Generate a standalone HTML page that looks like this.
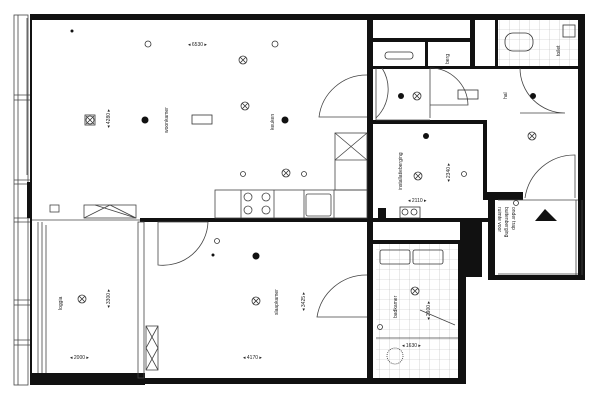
<!DOCTYPE html>
<html><head><meta charset="utf-8"><style>
html,body{margin:0;padding:0;background:#fff;width:600px;height:400px;overflow:hidden}
svg{display:block}
text{font-family:"Liberation Sans",sans-serif;font-size:5px;fill:#222}
</style></head><body>
<svg width="600" height="400" viewBox="0 0 600 400" xmlns="http://www.w3.org/2000/svg">
<defs>
<pattern id="tile" width="10" height="10" patternUnits="userSpaceOnUse">
<path d="M10 0V10H0" fill="none" stroke="#bbb" stroke-width="0.6"/></pattern>
</defs>
<rect width="600" height="400" fill="#fff"/>
<rect x="498" y="20" width="80" height="48" fill="url(#tile)"/>
<rect x="376" y="244" width="82" height="138" fill="url(#tile)"/>
<g fill="none" stroke="#444" stroke-width="0.8">
<rect x="14" y="15" width="14" height="370"/>
<line x1="18" y1="15" x2="18" y2="385"/>
<line x1="27" y1="18" x2="27" y2="175"/>
<line x1="14" y1="95" x2="32" y2="95"/><line x1="14" y1="100" x2="32" y2="100"/>
<line x1="14" y1="180" x2="32" y2="180"/><line x1="14" y1="184" x2="32" y2="184"/>
<line x1="14" y1="218" x2="32" y2="218"/><line x1="14" y1="222" x2="32" y2="222"/>
<line x1="14" y1="300" x2="32" y2="300"/><line x1="14" y1="305" x2="32" y2="305"/>
<line x1="14" y1="340" x2="32" y2="340"/><line x1="14" y1="345" x2="32" y2="345"/>
</g>
<rect x="27" y="182" width="5" height="36" fill="#111"/>
<g fill="#111">
<rect x="30" y="14" width="555" height="6"/>
<rect x="578" y="14" width="7" height="186"/>
<rect x="367" y="18" width="6" height="366"/>
<rect x="140" y="218" width="348" height="4"/>
<rect x="32" y="373" width="113" height="12"/>
<rect x="145" y="378" width="321" height="6"/>
<rect x="373" y="240" width="90" height="4"/>
<rect x="458" y="240" width="8" height="144"/>
<rect x="460" y="222" width="22" height="55"/>
<rect x="373" y="120" width="112" height="4"/>
<rect x="483" y="120" width="4" height="78"/>
<rect x="483" y="192" width="40" height="8"/>
<rect x="488" y="192" width="7" height="88"/>
<rect x="488" y="275" width="97" height="5"/>
<rect x="578" y="196" width="7" height="84"/>
<rect x="373" y="38" width="100" height="4"/>
<rect x="470" y="18" width="5" height="50"/>
<rect x="495" y="18" width="3" height="50"/>
<rect x="425" y="40" width="3" height="28"/>
<rect x="373" y="66" width="205" height="3"/>
<rect x="378" y="208" width="8" height="14"/>
<rect x="30" y="18" width="2" height="367"/>
</g>
<g fill="none" stroke="#444" stroke-width="0.8">
<line x1="32" y1="220" x2="140" y2="220"/>
<line x1="38" y1="222" x2="38" y2="373"/><line x1="42" y1="222" x2="42" y2="373"/><line x1="46" y1="225" x2="46" y2="373"/>
<rect x="138" y="222" width="6" height="156"/>
<rect x="146" y="326" width="12" height="44"/>
<path d="M146 326 L158 348 L146 370 M158 326 L146 348 L158 370"/>
<rect x="84" y="205" width="52" height="13"/>
<path d="M84 218 L110 205 L136 218 M95 205 L136 218"/>
<rect x="50" y="205" width="9" height="7"/>
<line x1="498" y1="200" x2="578" y2="200"/><line x1="498" y1="274" x2="578" y2="274"/>
</g>
<g fill="none" stroke="#444" stroke-width="0.8">
<rect x="215" y="190" width="152" height="28"/>
<line x1="241" y1="190" x2="241" y2="218"/><line x1="274" y1="190" x2="274" y2="218"/>
<line x1="304" y1="190" x2="304" y2="218"/><line x1="334" y1="190" x2="334" y2="218"/>
<circle cx="248" cy="197" r="4"/><circle cx="266" cy="197" r="4"/>
<circle cx="248" cy="210" r="4"/><circle cx="266" cy="210" r="4"/>
<rect x="306" y="194" width="25" height="22" rx="2"/>
<rect x="335" y="133" width="32" height="57"/>
<path d="M335 133 L367 160 M367 133 L335 160"/><line x1="335" y1="160" x2="367" y2="160"/>
</g>
<g fill="none" stroke="#444" stroke-width="0.8">
<path d="M367 75 A48 48 0 0 0 319 117 L367 117"/>
<path d="M382 68 A40 40 0 0 1 376 118"/><line x1="430" y1="68" x2="430" y2="118"/>
<path d="M430 68 A38 38 0 0 1 468 105 L430 105"/><line x1="376" y1="68" x2="376" y2="120"/><line x1="376" y1="120" x2="430" y2="120"/>
<path d="M520 68 A45 45 0 0 0 565 113 L520 113"/>
<path d="M525 198 A50 50 0 0 1 575 155 L575 198"/>
<path d="M208 222 L158 222 L158 265 A45 45 0 0 0 208 222"/>
<path d="M367 275 A50 50 0 0 0 317 317 L367 317"/>
<line x1="576" y1="200" x2="576" y2="275"/><line x1="582" y1="200" x2="582" y2="275"/>
<line x1="455" y1="325" x2="420" y2="310"/><line x1="376" y1="338" x2="458" y2="338"/>
</g>
<polygon points="545,209 535,221 557,221" fill="#111"/>
<g fill="#111">
<circle cx="145" cy="120" r="3.5"/><circle cx="285" cy="120" r="3.5"/>
<circle cx="256" cy="256" r="3.5"/><circle cx="401" cy="96" r="3"/>
<circle cx="426" cy="136" r="3"/><circle cx="533" cy="96" r="3"/>
<circle cx="72" cy="31" r="1.5"/><circle cx="213" cy="255" r="1.5"/>
</g>
<g fill="none" stroke="#333" stroke-width="0.8">
<circle cx="148" cy="44" r="3"/><circle cx="275" cy="44" r="3"/>
<circle cx="243" cy="174" r="2.5"/><circle cx="304" cy="174" r="2.5"/>
<circle cx="464" cy="174" r="2.5"/>
<g><circle cx="243" cy="60" r="4"/><path d="M240 57 L246 63 M246 57 L240 63"/></g>
<g><circle cx="90" cy="120" r="4"/><rect x="85" y="115" width="10" height="10"/><path d="M86 116 L94 124 M94 116 L86 124"/></g>
<g><circle cx="286" cy="173" r="4"/><path d="M283 170 L289 176 M289 170 L283 176"/></g>
<g><circle cx="82" cy="299" r="4"/><path d="M79 296 L85 302 M85 296 L79 302"/></g>
<g><circle cx="256" cy="301" r="4"/><path d="M253 298 L259 304 M259 298 L253 304"/></g>
<g><circle cx="415" cy="291" r="4"/><path d="M412 288 L418 294 M418 288 L412 294"/></g>
<g><circle cx="418" cy="176" r="4"/><path d="M415 173 L421 179 M421 173 L415 179"/></g>
<g><circle cx="417" cy="96" r="4"/><path d="M414 93 L420 99 M420 93 L414 99"/></g>
<g><circle cx="532" cy="136" r="4"/><path d="M529 133 L535 139 M535 133 L529 139"/></g>
<g><circle cx="245" cy="106" r="4"/><path d="M242 103 L248 109 M248 103 L242 109"/></g>
<rect x="192" y="115" width="20" height="9"/>
<rect x="458" y="90" width="20" height="9"/>
<rect x="380" y="250" width="30" height="14" rx="2"/><rect x="413" y="250" width="30" height="14" rx="2"/>
<rect x="400" y="207" width="20" height="11"/>
<circle cx="405" cy="212" r="3"/><circle cx="414" cy="212" r="3"/>
<rect x="385" y="52" width="28" height="7" rx="3"/>
<rect x="505" y="33" width="28" height="18" rx="8"/>
<rect x="563" y="25" width="12" height="12"/>
<circle cx="395" cy="356" r="8" stroke-dasharray="1 1"/>
<circle cx="217" cy="241" r="2.5"/><circle cx="380" cy="327" r="2.5"/>
<circle cx="516" cy="203" r="2.5"/>
</g>
<g>
<text transform="translate(168,133) rotate(-90)">woonkamer</text>
<text transform="translate(274,130) rotate(-90)">keuken</text>
<text transform="translate(278,315) rotate(-90)">slaapkamer</text>
<text transform="translate(62,310) rotate(-90)">loggia</text>
<text transform="translate(397,318) rotate(-90)">badkamer</text>
<text transform="translate(402,190) rotate(-90)">installatieberging</text>
<text transform="translate(507,99) rotate(-90)">hal</text>
<text transform="translate(560,56) rotate(-90)">toilet</text>
<text transform="translate(449,64) rotate(-90)">berg</text>
<text transform="translate(498,207) rotate(90)">ruimte voor</text>
<text transform="translate(505,207) rotate(90)">buitenberging</text>
<text transform="translate(512,207) rotate(90)">onder trap</text>
<text x="188" y="46">◂ 6530 ▸</text>
<text transform="translate(110,128) rotate(-90)">◂ 4280 ▸</text>
<text transform="translate(305,311) rotate(-90)">◂ 3425 ▸</text>
<text x="243" y="359">◂ 4170 ▸</text>
<text x="70" y="359">◂ 2000 ▸</text>
<text transform="translate(110,308) rotate(-90)">◂ 3300 ▸</text>
<text transform="translate(430,320) rotate(-90)">◂ 2900 ▸</text>
<text x="402" y="347">◂ 1630 ▸</text>
<text x="408" y="202">◂ 2110 ▸</text>
<text transform="translate(450,182) rotate(-90)">◂ 2340 ▸</text>
</g>
</svg>
</body></html>
